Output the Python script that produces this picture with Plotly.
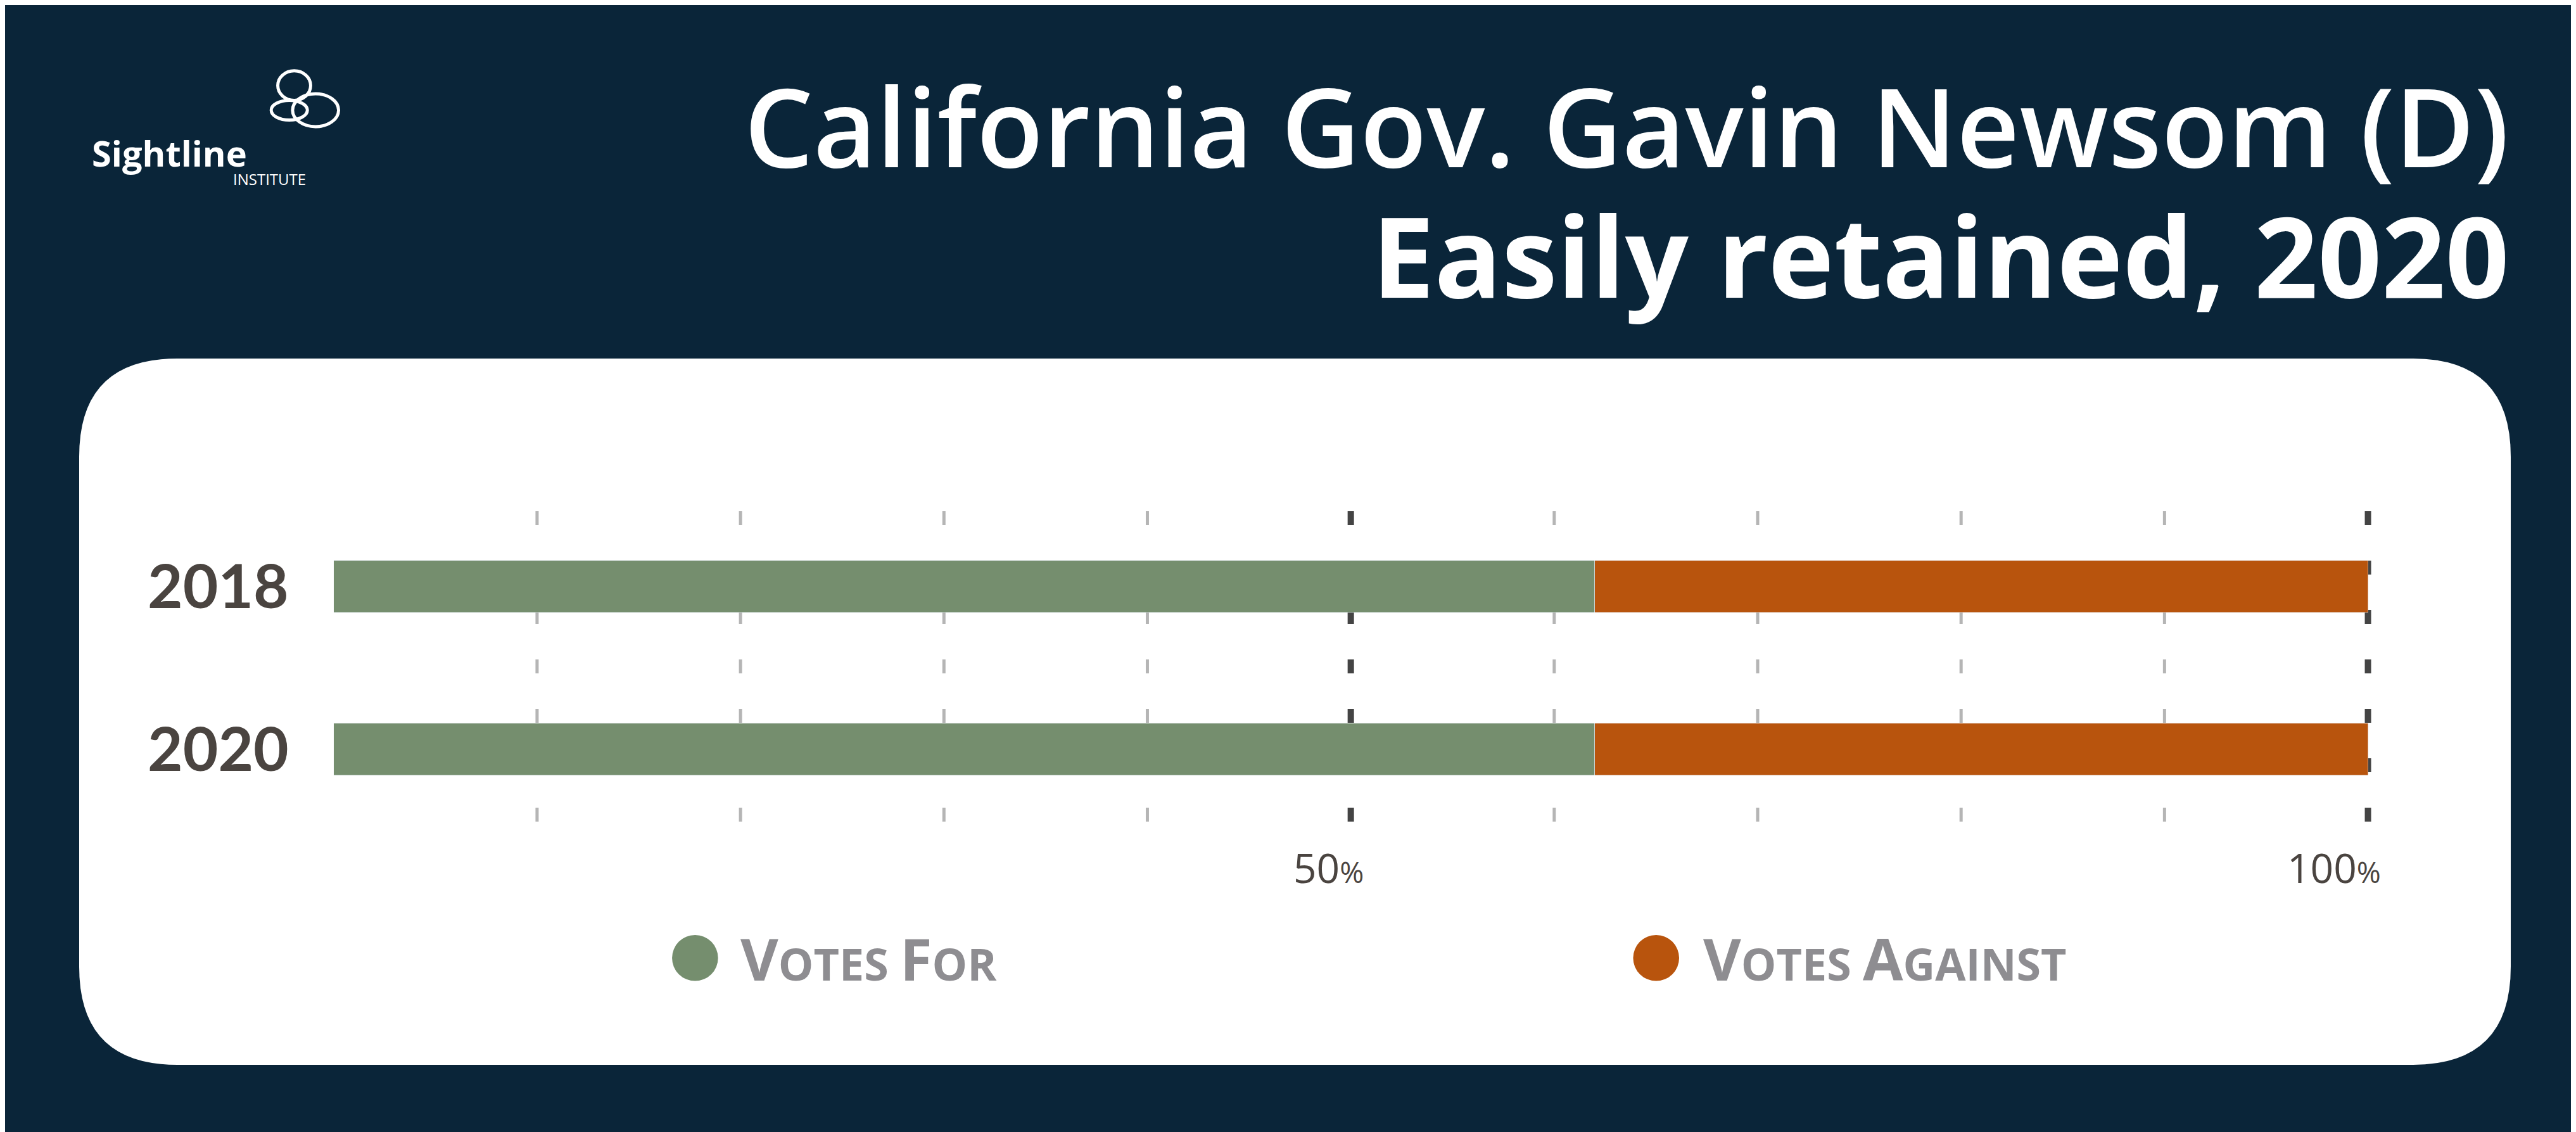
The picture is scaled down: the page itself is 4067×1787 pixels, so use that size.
import plotly.graph_objects as go

years = ["2018", "2020"]
votes_for = [62.0, 62.0]
votes_against = [38.0, 38.0]
grid_ticks = [10, 20, 30, 40, 50, 60, 70, 80, 90, 100]
major_ticks = [50, 100]

W, H = 4067, 1787
NAVY = "#0a2539"
GREEN = "#758e6e"
ORANGE = "#b8540d"
BROWN = "#4a4440"
GREY = "#8e8d91"

fig = go.Figure()
fig.add_trace(go.Bar(y=years, x=votes_for, orientation="h", marker_color=GREEN,
                     width=0.32, name="Votes For"))
fig.add_trace(go.Bar(y=years, x=votes_against, orientation="h", marker_color=ORANGE,
                     width=0.32, name="Votes Against"))

x0, x1 = 200 / 1568, 1442 / 1568
y_bot, y_top = 1 - 497 / 689, 1 - 305 / 689

shapes = []
# white rounded panel
px0, px1, py0, py1, r = 117 / W, 3956 / W, 1 - 1673 / H, 1 - 558 / H, 155
rx, ry = r / W, r / H
shapes.append(dict(type="path", xref="paper", yref="paper", layer="below",
                   fillcolor="white", line_width=0,
                   path=f"M{px0+rx},{py0} L{px1-rx},{py0} Q{px1},{py0} {px1},{py0+ry} "
                        f"L{px1},{py1-ry} Q{px1},{py1} {px1-rx},{py1} L{px0+rx},{py1} "
                        f"Q{px0},{py1} {px0},{py1-ry} L{px0},{py0+ry} Q{px0},{py0} {px0+rx},{py0} Z"))
# dashed gridlines
for t in grid_ticks:
    major = t in major_ticks
    shapes.append(dict(type="line", xref="x", yref="paper", x0=t, x1=t, y0=y_bot, y1=y_top,
                       layer="below",
                       line=dict(color="#444444" if major else "#b5b5b5",
                                 width=10 if major else 5, dash="22px,56px")))
# left axis line
shapes.append(dict(type="line", xref="x", yref="paper", x0=-0.3, x1=-0.3, y0=y_bot, y1=y_top + 0.005,
                   line=dict(color=BROWN, width=13)))
# legend dots
for cx, col in [(420, GREEN), (1005, ORANGE)]:
    cxp, cyp, rr = cx / 1568, 1 - 580 / 689, 14
    shapes.append(dict(type="circle", xref="paper", yref="paper",
                       x0=cxp - rr / 1568, x1=cxp + rr / 1568,
                       y0=cyp - rr / 689, y1=cyp + rr / 689, fillcolor=col, line_width=0))
# logo rings
for (ex0, ey0, ex1, ey1) in [(166, 40, 186, 58), (175, 54, 203, 74), (162, 58, 184, 70)]:
    shapes.append(dict(type="circle", xref="paper", yref="paper",
                       x0=ex0 / 1568, x1=ex1 / 1568, y0=1 - ey1 / 689, y1=1 - ey0 / 689,
                       line=dict(color="white", width=5)))

P = dict(xref="paper", yref="paper", showarrow=False)
ann = []
ann.append(dict(text="California Gov. Gavin Newsom (D)", x=1525 / 1568, y=1 - 73 / 689,
                xanchor="right", yanchor="middle", **P,
                font=dict(family="Open Sans", size=172, color="white", weight=600)))
ann.append(dict(text="<b>Easily retained, 2020</b>", x=1525 / 1568, y=1 - 152 / 689,
                xanchor="right", yanchor="middle", **P,
                font=dict(family="Open Sans", size=176, color="white")))
ann.append(dict(text="<b>Sightline</b>", x=52 / 1568, y=1 - 90 / 689, xanchor="left",
                yanchor="middle", **P,
                font=dict(family="Open Sans", size=56, color="white")))
ann.append(dict(text="INSTITUTE", x=184 / 1568, y=1 - 106 / 689, xanchor="right",
                yanchor="middle", **P,
                font=dict(family="Open Sans", size=24, color="white")))
for t in major_ticks:
    ann.append(dict(text=f"{t}<span style='font-size:46px'>%</span>", x=t, xref="x",
                    y=1 - 525 / 689, yref="paper", showarrow=False,
                    xanchor="right", yanchor="middle", xshift=22,
                    font=dict(family="Open Sans", size=64, color=BROWN)))
for lx, big1, rest1, big2, rest2 in [(447, "V", "OTES ", "F", "OR"), (1033, "V", "OTES ", "A", "GAINST")]:
    ann.append(dict(text=f"<b>{big1}<span style='font-size:70px'>{rest1}</span>{big2}"
                         f"<span style='font-size:70px'>{rest2}</span></b>",
                    x=lx / 1568, y=1 - 580 / 689, xanchor="left", yanchor="middle",
                    **P, font=dict(family="Open Sans", size=92, color=GREY)))

fig.update_layout(
    width=W, height=H, paper_bgcolor=NAVY, plot_bgcolor="rgba(0,0,0,0)",
    margin=dict(l=0, r=0, t=0, b=0), barmode="stack", showlegend=False,
    bargap=0,
    xaxis=dict(domain=[x0, x1], range=[0, 100.3], showgrid=False, zeroline=False,
               showticklabels=False, fixedrange=True),
    yaxis=dict(domain=[y_bot, y_top], range=[1.444, -0.495], showgrid=False,
               zeroline=False, ticksuffix="   ", type="category",
               tickfont=dict(family="Lato", size=96, color=BROWN, weight="bold")),
    shapes=shapes, annotations=ann,
)
fig.write_html("out.html")
